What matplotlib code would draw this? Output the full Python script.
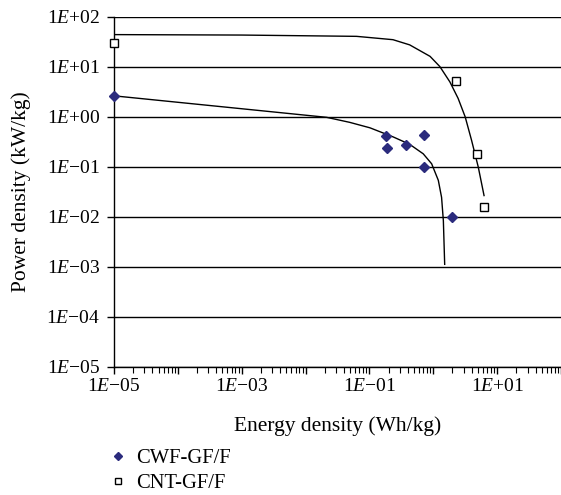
import numpy as np
import matplotlib.pyplot as plt
from matplotlib.ticker import LogLocator, NullFormatter, FixedLocator

plt.rcParams['font.family'] = 'Liberation Serif'
plt.rcParams['mathtext.fontset'] = 'custom'
plt.rcParams['mathtext.rm'] = 'Liberation Serif'
plt.rcParams['mathtext.it'] = 'Liberation Serif:italic'

# measured points
cwf_e = [1e-05, 0.18, 0.19, 0.37, 0.71, 0.71, 2.0]
cwf_p = [2.65, 0.41, 0.24, 0.27, 0.44, 0.10, 0.010]
cnt_e = [1e-05, 2.3, 4.8, 6.2]
cnt_p = [29.5, 5.2, 0.18, 0.016]

# fitted curves
cwf_fit_e = [1e-05, 4.7e-04, 0.0214, 0.049, 0.102, 0.234, 0.427, 0.697,
             0.944, 1.20, 1.35, 1.44, 1.51]
cwf_fit_p = [2.63, 1.60, 0.977, 0.776, 0.603, 0.398, 0.282, 0.182,
             0.115, 0.0537, 0.0245, 0.0083, 0.00112]
cnt_fit_e = [1e-05, 1e-03, 0.063, 0.234, 0.427, 0.891, 1.27, 1.82,
             2.45, 3.16, 3.98, 5.07, 6.24]
cnt_fit_p = [44.1, 43.2, 40.7, 34.9, 27.5, 16.2, 10.1, 5.0,
             2.34, 1.0, 0.339, 0.0986, 0.0266]

ytick_vals = [1e-05, 1e-04, 1e-03, 1e-02, 1e-01, 1e+00, 1e+01, 1e+02]
ytick_labels = ['1$E$−05', '1$E$−04', '1$E$−03', '1$E$−02', '1$E$−01',
                '1$E$+00', '1$E$+01', '1$E$+02']
xtick_vals = [1e-05, 1e-03, 1e-01, 1e+01]
xtick_labels = ['1$E$−05', '1$E$−03', '1$E$−01', '1$E$+01']

fig = plt.figure(figsize=(5.61, 4.95), dpi=100)
ax = fig.add_axes([0.203, 0.259, 0.797, 0.707])

ax.plot(cwf_fit_e, cwf_fit_p, color='black', linewidth=1)
ax.plot(cnt_fit_e, cnt_fit_p, color='black', linewidth=1)
ax.plot(cwf_e, cwf_p, 'D', color='#2b2b7d', markersize=5.5, linestyle='none',
        label='CWF-GF/F', clip_on=False, zorder=5)
ax.plot(cnt_e, cnt_p, 's', markerfacecolor='white', markeredgecolor='black',
        markeredgewidth=1, markersize=5.5, linestyle='none', label='CNT-GF/F',
        clip_on=False, zorder=5)

ax.set_xscale('log')
ax.set_yscale('log')
ax.set_xlim(1e-05, 1e+02)
ax.set_ylim(1e-05, 1e+02)

ax.set_yticks(ytick_vals)
ax.set_yticklabels(ytick_labels)
ax.yaxis.set_minor_locator(FixedLocator([]))
ax.xaxis.set_major_locator(FixedLocator([10.0**k for k in range(-5, 3)]))
ax.xaxis.set_major_formatter(NullFormatter())
ax.xaxis.set_minor_locator(LogLocator(base=10, subs=np.arange(2, 10), numticks=20))
ax.xaxis.set_minor_formatter(NullFormatter())
for v, lab in zip(xtick_vals, xtick_labels):
    ax.text(v, -0.032, lab, transform=ax.get_xaxis_transform(),
            ha='center', va='top', fontsize=14)

ax.grid(axis='y', which='major', color='black', linewidth=1)
ax.tick_params(axis='y', which='major', length=5, width=1, labelsize=14, pad=5)
ax.tick_params(axis='x', which='major', length=5, width=1)
ax.tick_params(axis='x', which='minor', length=4, width=0.8)

for s in ['top', 'right']:
    ax.spines[s].set_visible(False)
ax.spines['left'].set_linewidth(1)
ax.spines['bottom'].set_linewidth(1)

ax.set_xlabel('Energy density (Wh/kg)', fontsize=15.5, labelpad=27)
ax.set_ylabel('Power density (kW/kg)', fontsize=15.5, labelpad=11)

fig.legend(loc='upper left', bbox_to_anchor=(0.1925, 0.093), frameon=False,
           fontsize=14.8, handletextpad=0.35, labelspacing=0.25,
           handlelength=1.0, borderaxespad=0, borderpad=0, markerscale=0.8)

fig.savefig('out.png', dpi=100)
